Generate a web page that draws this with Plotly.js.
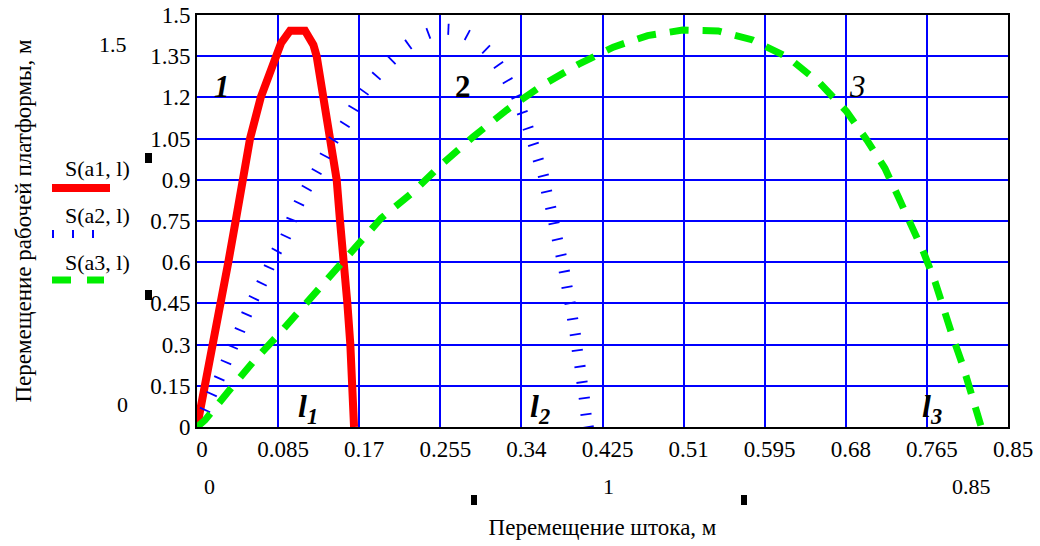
<!DOCTYPE html>
<html>
<head>
<meta charset="utf-8">
<script src="https://cdn.plot.ly/plotly-3.0.1.min.js"></script>
<style>html,body{margin:0;padding:0;background:#fff;}#chart{width:1040px;height:546px;}</style>
</head>
<body>
<div id="chart"></div>
<script>
// ---- data ----
const xTickVals = [0, 0.085, 0.17, 0.255, 0.34, 0.425, 0.51, 0.595, 0.68, 0.765, 0.85];
const xTickText = ["0", "0.085", "0.17", "0.255", "0.34", "0.425", "0.51", "0.595", "0.68", "0.765", "0.85"];
const yTickVals = [0, 0.15, 0.3, 0.45, 0.6, 0.75, 0.9, 1.05, 1.2, 1.35, 1.5];
const yTickText = ["0", "0.15", "0.3", "0.45", "0.6", "0.75", "0.9", "1.05", "1.2", "1.35", "1.5"];

// S(a1, l)
const s1X = [0, 0.0084, 0.0171, 0.0259, 0.0328, 0.0405, 0.0486, 0.0556, 0.0668, 0.0828, 0.088, 0.0975, 0.1132, 0.122, 0.1254, 0.1324, 0.1401, 0.1464, 0.1499, 0.1548, 0.1576, 0.1607, 0.1628, 0.1646];
const s1Y = [0, 0.15, 0.3, 0.45, 0.6, 0.75, 0.9, 1.05, 1.2, 1.35, 1.397, 1.443, 1.443, 1.391, 1.35, 1.2, 1.05, 0.9, 0.75, 0.6, 0.45, 0.3, 0.15, 0];

// S(a2, l)
const s2X = [0, 0.0084, 0.0154, 0.0234, 0.0304, 0.0374, 0.045, 0.052, 0.0597, 0.0678, 0.0755, 0.0835, 0.093, 0.0992, 0.1069, 0.115, 0.1254, 0.134, 0.143, 0.155, 0.1638, 0.175, 0.188, 0.204, 0.2215, 0.2425, 0.2635, 0.2833, 0.303, 0.316, 0.3256, 0.335, 0.341, 0.347, 0.3526, 0.3577, 0.363, 0.3664, 0.3707, 0.3742, 0.3777, 0.3815, 0.385, 0.3878, 0.391, 0.3937, 0.3965, 0.3986, 0.4014, 0.4035, 0.4059, 0.4077, 0.41];
const s2Y = [0, 0.062, 0.12, 0.177, 0.236, 0.292, 0.353, 0.41, 0.469, 0.523, 0.581, 0.641, 0.694, 0.755, 0.815, 0.869, 0.93, 0.987, 1.045, 1.102, 1.16, 1.221, 1.278, 1.336, 1.393, 1.433, 1.448, 1.427, 1.375, 1.318, 1.261, 1.203, 1.144, 1.088, 1.029, 0.972, 0.915, 0.857, 0.798, 0.742, 0.683, 0.625, 0.566, 0.509, 0.451, 0.393, 0.337, 0.279, 0.22, 0.163, 0.105, 0.046, 0];

// S(a3, l)
const s3X = [0, 0.0084, 0.0328, 0.059, 0.085, 0.1114, 0.1376, 0.1656, 0.193, 0.225, 0.2557, 0.2896, 0.3246, 0.3623, 0.3996, 0.4363, 0.4723, 0.509, 0.5464, 0.5824, 0.6197, 0.653, 0.681, 0.702, 0.721, 0.735, 0.749, 0.762, 0.7735, 0.784, 0.7926, 0.803, 0.812, 0.822];
const s3Y = [0, 0.025, 0.129, 0.238, 0.335, 0.438, 0.541, 0.644, 0.76, 0.851, 0.954, 1.057, 1.154, 1.245, 1.32, 1.383, 1.425, 1.445, 1.442, 1.409, 1.345, 1.251, 1.148, 1.045, 0.942, 0.838, 0.735, 0.632, 0.529, 0.426, 0.323, 0.22, 0.117, 0];

const seriesNames = ["S(a1, l)", "S(a2, l)", "S(a3, l)"];
const curveLabels = ["1", "2", "3"];
const curveLabelX = [0.026, 0.279, 0.692];
const curveLabelY = [1.238, 1.238, 1.238];
const endLabels = ["1", "2", "3"];
const endLabelX = [0.1163, 0.3599, 0.7706];

// ---- geometry helpers (pixel -> paper) ----
const PL = 197, PR = 1008, PT = 15, PB = 427;
const PX = px => (px - PL) / (PR - PL);
const PY = py => (PB - py) / (PB - PT);
const FONT = '"Liberation Serif", "Times New Roman", serif';

// perpendicular dash orientation for the Mathcad-like dotted trace
const sx = (PR - PL) / 0.85, sy = (PB - PT) / 1.5;
const n2 = s2X.length;
const s2Angle = s2X.map((x, i) => {
  const a = Math.max(0, i - 1), b = Math.min(n2 - 1, i + 1);
  const dx = (s2X[b] - s2X[a]) * sx, dy = -(s2Y[b] - s2Y[a]) * sy;
  return Math.atan2(dy, dx) * 180 / Math.PI + 90;
});

const traces = [
  {x: s1X, y: s1Y, name: seriesNames[0], mode: "lines", line: {color: "#ff0000", width: 8}},
  {x: s2X, y: s2Y, name: seriesNames[1], mode: "markers",
   marker: {symbol: "line-ew", size: 8, angle: s2Angle, color: "#0000ff", line: {color: "#0000ff", width: 1.8}}},
  {x: s3X, y: s3Y, name: seriesNames[2], mode: "lines", line: {color: "#00ee00", width: 7, dash: "19px,14px"}}
];

const annotations = [];
curveLabels.forEach((t, i) => {
  const styles = ["<b><i>" + t + "</i></b>", "<b>" + t + "</b>", "<i>" + t + "</i>"];
  annotations.push({x: curveLabelX[i], y: curveLabelY[i], xref: "x", yref: "y", xanchor: "center", yanchor: "middle",
    text: styles[i], showarrow: false, font: {family: FONT, size: 31, color: "#000"}});
});
endLabels.forEach((t, i) => {
  annotations.push({x: endLabelX[i], y: 0, xref: "x", yref: "y", xanchor: "center", yanchor: "bottom", yshift: -4,
    text: "<b><i>l</i></b><sub><b><i>" + t + "</i></b></sub>",
    showarrow: false, font: {family: FONT, size: 32, color: "#000"}});
});
// Mathcad range / variable placeholders
const extra = [["1.5", 113, 45], ["0", 122, 404], ["0", 209, 486], ["1", 608, 486], ["0.85", 971, 486]];
extra.forEach(e => annotations.push({x: PX(e[1]), y: PY(e[2]), xref: "paper", yref: "paper",
  xanchor: "center", yanchor: "middle", text: e[0],
  showarrow: false, font: {family: FONT, size: 22, color: "#000"}}));
// legend texts
const legY = [169, 215, 262];
seriesNames.forEach((t, i) => annotations.push({x: PX(97), y: PY(legY[i]), xref: "paper", yref: "paper",
  xanchor: "center", yanchor: "middle", text: t, showarrow: false, font: {family: FONT, size: 22, color: "#000"}}));

const shapes = [];
// legend samples
shapes.push({type: "line", xref: "paper", yref: "paper", x0: PX(52), x1: PX(110), y0: PY(188), y1: PY(188),
  line: {color: "#ff0000", width: 8}});
[53, 73, 93].forEach(px => shapes.push({type: "line", xref: "paper", yref: "paper", x0: PX(px), x1: PX(px),
  y0: PY(230), y1: PY(238), line: {color: "#0000ff", width: 2}}));
[[52, 71], [87, 104]].forEach(p => shapes.push({type: "line", xref: "paper", yref: "paper", x0: PX(p[0]), x1: PX(p[1]),
  y0: PY(280), y1: PY(280), line: {color: "#00ee00", width: 7}}));
// small black placeholder squares
[[145, 153, 152, 163], [145, 290, 152, 300], [471, 495, 477, 505], [741, 495, 747, 505]].forEach(r =>
  shapes.push({type: "rect", xref: "paper", yref: "paper", x0: PX(r[0]), x1: PX(r[2]), y0: PY(r[3]), y1: PY(r[1]),
    fillcolor: "#000", line: {width: 0}}));

const axisCommon = {
  showgrid: true, gridcolor: "#0000ff", gridwidth: 2, zeroline: false,
  showline: true, mirror: true, linecolor: "#000", linewidth: 2, ticks: "",
  tickfont: {family: FONT, size: 23, color: "#000"}, fixedrange: true
};

const layout = {
  width: 1040, height: 546,
  margin: {l: PL, r: 1040 - PR, t: PT, b: 546 - PB},
  paper_bgcolor: "#fff", plot_bgcolor: "#fff",
  showlegend: false,
  xaxis: Object.assign({}, axisCommon, {
    range: [0, 0.85], tickmode: "array", tickvals: xTickVals, ticktext: xTickText,
    ticklabelshift: 5,
    title: {text: "Перемещение штока, м", font: {family: FONT, size: 23, color: "#000"}, standoff: 58}
  }),
  yaxis: Object.assign({}, axisCommon, {
    range: [0, 1.5], tickmode: "array", tickvals: yTickVals, ticktext: yTickText,
    title: {text: "Перемещение рабочей платформы, м", font: {family: FONT, size: 23, color: "#000"}, standoff: 112}
  }),
  annotations: annotations,
  shapes: shapes
};

Plotly.newPlot("chart", traces, layout, {displayModeBar: false, staticPlot: true});
</script>
</body>
</html>
